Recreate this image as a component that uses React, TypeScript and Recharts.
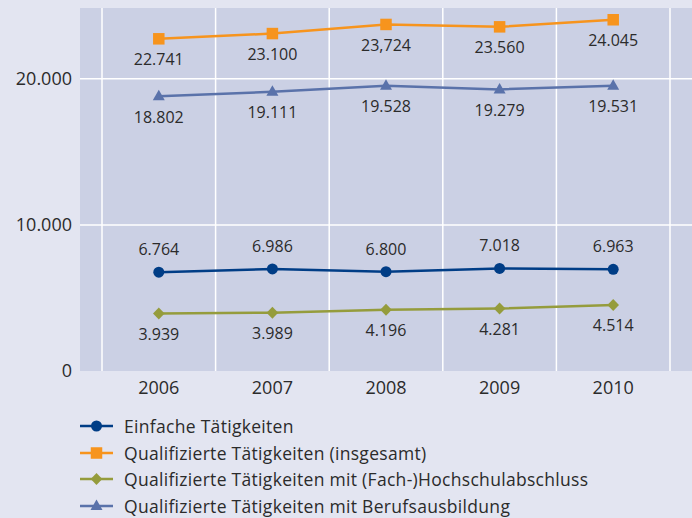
import * as React from 'react';
import { CartesianGrid, Legend, LabelList, Line, LineChart, XAxis, YAxis } from 'recharts';

const years = ['2006', '2007', '2008', '2009', '2010'];
const einfache = [6764, 6986, 6800, 7018, 6963];
const qualiGesamt = [22741, 23100, 23724, 23560, 24045];
// the source prints 23,724 with a comma
const qualiGesamtLabels = ['22.741', '23.100', '23,724', '23.560', '24.045'];
const qualiHochschule = [3939, 3989, 4196, 4281, 4514];
const qualiBeruf = [18802, 19111, 19528, 19279, 19531];
const yTicks = [0, 10000, 20000];
const Y_MAX = 24850;

const FONT = '"Open Sans", sans-serif';
const TEXT = '#2b2b2b';
const PAD = 22;
const AXIS_SIZE = 18;
const NUM_SIZE = 16;

const series = [
  { key: 'einfache', name: 'Einfache Tätigkeiten', color: '#003d86', shape: 'circle', label: 'top' },
  { key: 'gesamt', name: 'Qualifizierte Tätigkeiten (insgesamt)', color: '#f7941d', shape: 'square', label: 'bottom' },
  { key: 'hochschule', name: 'Qualifizierte Tätigkeiten mit (Fach-)Hochschulabschluss', color: '#959c3c', shape: 'diamond', label: 'bottom' },
  { key: 'beruf', name: 'Qualifizierte Tätigkeiten mit Berufsausbildung', color: '#5a72aa', shape: 'triangle', label: 'bottom' },
];

const fmt = (v: number) => String(v).replace(/\B(?=(\d{3})+(?!\d))/g, '.');

const data = years.map((year, i) => ({
  year,
  einfache: einfache[i],
  gesamt: qualiGesamt[i],
  hochschule: qualiHochschule[i],
  beruf: qualiBeruf[i],
  einfacheLabel: fmt(einfache[i]),
  gesamtLabel: qualiGesamtLabels[i],
  hochschuleLabel: fmt(qualiHochschule[i]),
  berufLabel: fmt(qualiBeruf[i]),
}));

function Marker({ cx, cy, shape, color }: { cx: number; cy: number; shape: string; color: string }) {
  if (shape === 'circle') return <circle cx={cx} cy={cy} r={5.5} fill={color} />;
  if (shape === 'square') return <rect x={cx - 5.75} y={cy - 5.75} width={11.5} height={11.5} fill={color} />;
  if (shape === 'diamond')
    return <polygon points={`${cx},${cy - 6} ${cx + 5.8},${cy} ${cx},${cy + 6} ${cx - 5.8},${cy}`} fill={color} />;
  return <polygon points={`${cx},${cy - 6.5} ${cx + 6},${cy + 4} ${cx - 6},${cy + 4}`} fill={color} />;
}

function LegendBox() {
  return (
    <div style={{ fontFamily: FONT, fontSize: 17.5, letterSpacing: 0.3, color: TEXT }}>
      {series.map((s) => (
        <div key={s.key} style={{ display: 'flex', alignItems: 'center', height: 26.5 }}>
          <svg width={44} height={16} style={{ display: 'block' }}>
            <line x1={0} y1={8} x2={33} y2={8} stroke={s.color} strokeWidth={2.5} />
            <Marker cx={16.5} cy={8} shape={s.shape} color={s.color} />
          </svg>
          <span>{s.name}</span>
        </div>
      ))}
    </div>
  );
}

export default function App() {
  return (
    <div
      style={{ position: 'fixed', left: 0, top: 0, width: 692, height: 518, background: '#e3e5f1', overflow: 'hidden' }}
    >
      <LineChart width={692} height={518} data={data} margin={{ top: 8, right: 0, bottom: 117, left: 0 }}>
        <CartesianGrid
          fill="#cbd0e4"
          stroke="#ffffff"
          strokeWidth={1.5}
          verticalCoordinatesGenerator={({ offset }: any) => {
            const inner = offset.width - 2 * PAD;
            return years.concat('').map((_, i) => offset.left + PAD + (i * inner) / years.length);
          }}
          horizontalCoordinatesGenerator={({ offset }: any) =>
            yTicks.filter((t) => t > 0).map((t) => offset.top + offset.height * (1 - t / Y_MAX))
          }
        />
        <XAxis
          dataKey="year"
          scale="band"
          height={30}
          padding={{ left: PAD, right: PAD }}
          axisLine={false}
          tickLine={false}
          tickSize={0}
          tickMargin={10}
          tick={{ fill: TEXT, fontSize: AXIS_SIZE, fontFamily: FONT }}
        />
        <YAxis
          width={80}
          domain={[0, Y_MAX]}
          ticks={yTicks}
          tickFormatter={fmt}
          axisLine={false}
          tickLine={false}
          tickSize={0}
          tickMargin={8}
          tick={{ fill: TEXT, fontSize: AXIS_SIZE, fontFamily: FONT }}
        />
        {series.map((s) => (
          <Line
            key={s.key}
            dataKey={s.key}
            name={s.name}
            stroke={s.color}
            strokeWidth={2.5}
            isAnimationActive={false}
            dot={(p: any) => <Marker key={p.index} cx={p.cx} cy={p.cy} shape={s.shape} color={s.color} />}
            activeDot={false}
          >
            <LabelList
              dataKey={`${s.key}Label`}
              position={s.label as any}
              offset={s.label === 'top' ? 17 : 15}
              fill={TEXT}
              fontSize={NUM_SIZE}
              fontFamily={FONT}
            />
          </Line>
        ))}
        <Legend
          layout="vertical"
          verticalAlign="middle"
          align="center"
          wrapperStyle={{ top: 413, left: 80, width: 610, height: 106 }}
          content={() => <LegendBox />}
        />
      </LineChart>
    </div>
  );
}
